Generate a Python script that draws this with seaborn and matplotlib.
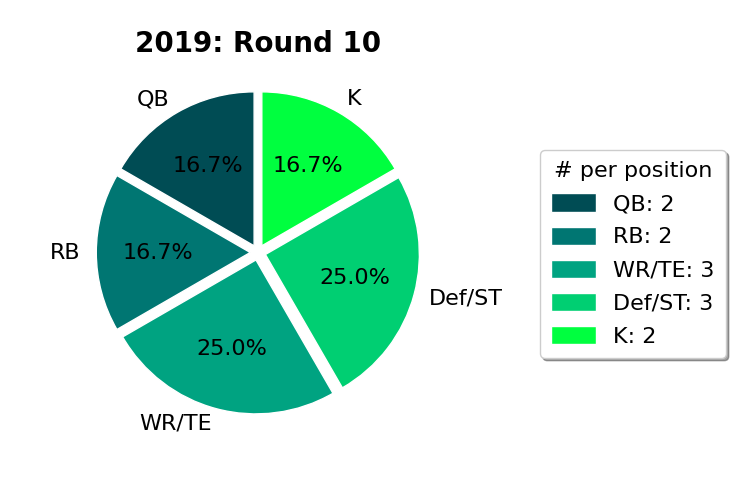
import matplotlib
matplotlib.use("Agg")
import matplotlib.pyplot as plt
import seaborn as sns

positions = ["QB", "RB", "WR/TE", "Def/ST", "K"]
counts = [2, 2, 3, 3, 2]
colors = ["#004c54", "#007672", "#00a381", "#00cf72", "#00ff3f"]
title = "2019: Round 10"

sns.set_style("white")
plt.rcParams["font.family"] = ["DejaVu Sans"]
plt.rcParams["font.size"] = 16
plt.rcParams["text.color"] = "black"

fig = plt.figure(figsize=(7.46, 5.0), dpi=100)
ax = fig.add_axes([0.0878, 0.11, 0.516, 0.77])
palette = sns.color_palette(colors)
wedges, texts, autotexts = ax.pie(
    counts,
    labels=positions,
    colors=palette,
    autopct="%1.1f%%",
    startangle=90,
    explode=[0.05] * len(counts),
    textprops={"fontsize": 16, "color": "black"},
)
ax.set_aspect("equal")
ax.set_title(title, fontsize=20, fontweight="bold", color="black")

leg = fig.legend(
    wedges,
    [f"{p}: {c}" for p, c in zip(positions, counts)],
    title="# per position",
    loc="center left",
    bbox_to_anchor=(529 / 746, 0.492),
    fontsize=16,
    title_fontsize=16,
    shadow=True,
    frameon=True,
    handleheight=0.9,
    labelspacing=0.55,
    borderpad=0.5,
)
for t in leg.get_texts():
    t.set_color("black")
leg.get_title().set_color("black")

fig.savefig("out.png", dpi=100)
